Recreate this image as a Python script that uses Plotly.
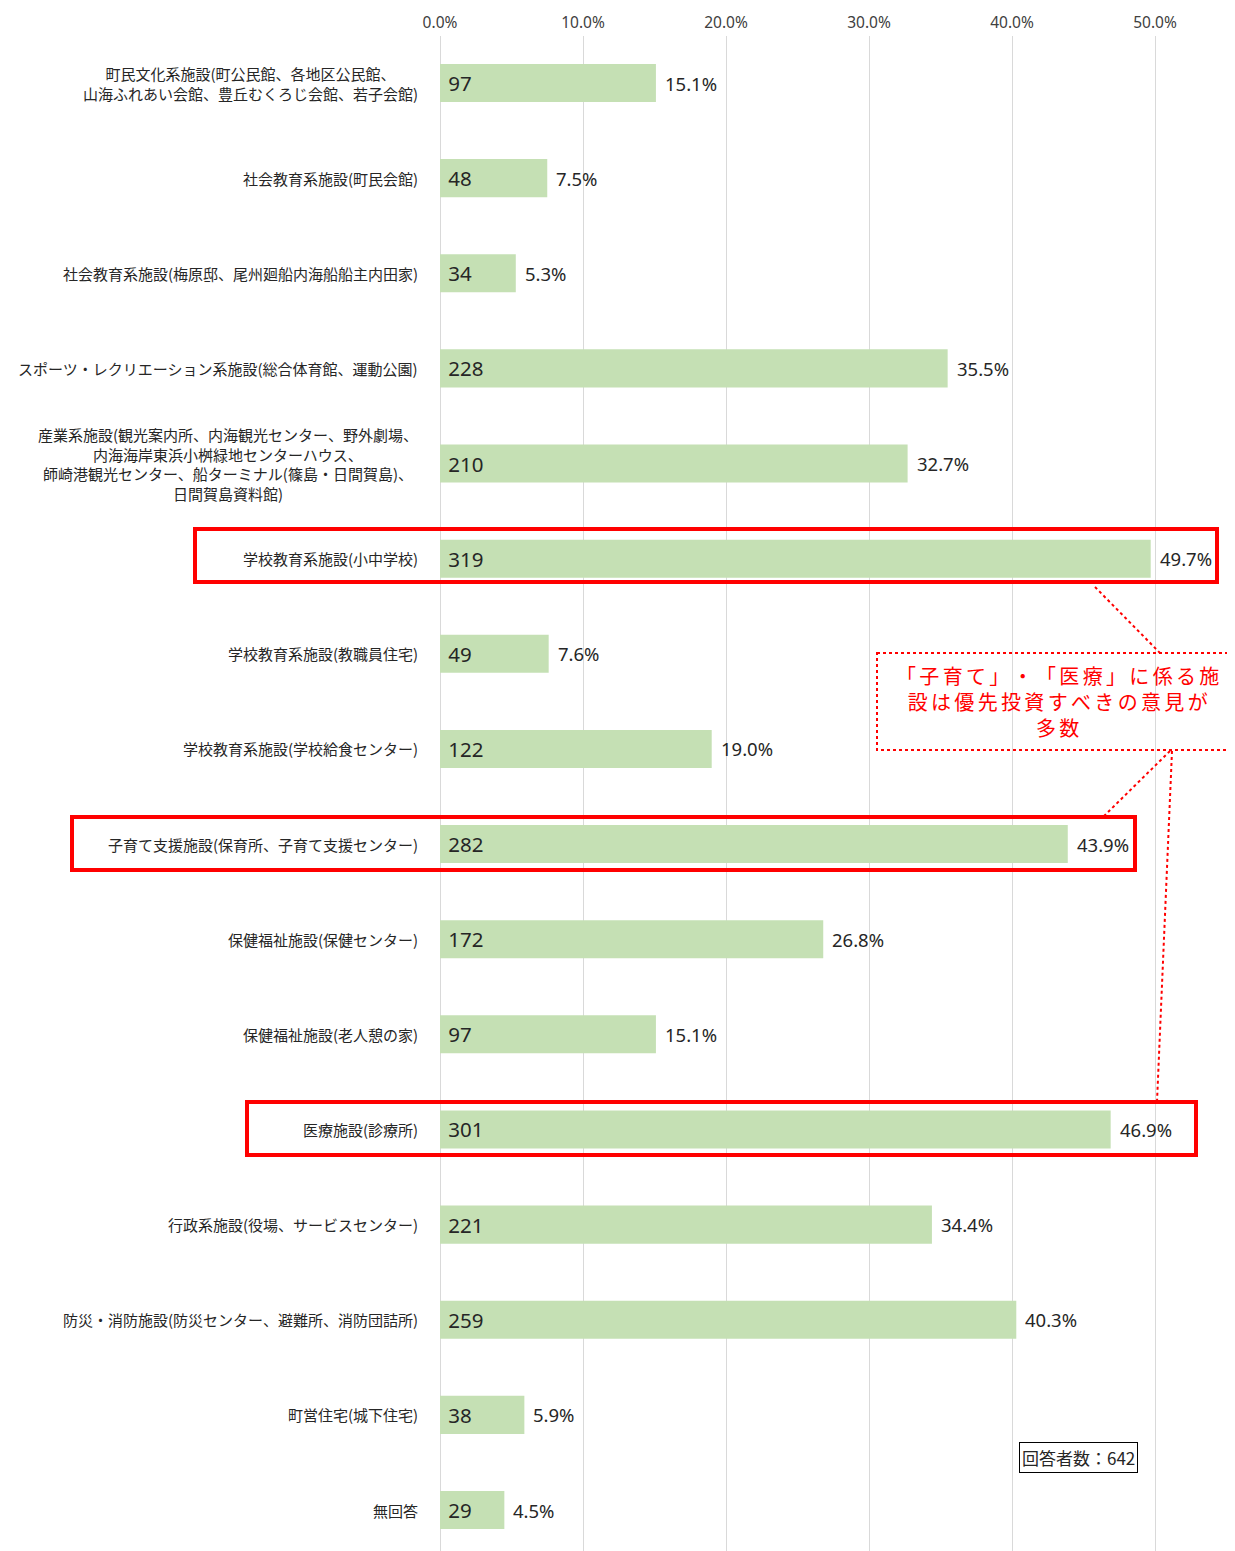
import plotly.graph_objects as go

categories = [
    "町民文化系施設(町公民館、各地区公民館、<br>山海ふれあい会館、豊丘むくろじ会館、若子会館)",
    "社会教育系施設(町民会館)",
    "社会教育系施設(梅原邸、尾州廻船内海船船主内田家)",
    "スポーツ・レクリエーション系施設(総合体育館、運動公園)",
    "産業系施設(観光案内所、内海観光センター、野外劇場、<br>内海海岸東浜小桝緑地センターハウス、<br>師崎港観光センター、船ターミナル(篠島・日間賀島)、<br>日間賀島資料館)",
    "学校教育系施設(小中学校)",
    "学校教育系施設(教職員住宅)",
    "学校教育系施設(学校給食センター)",
    "子育て支援施設(保育所、子育て支援センター)",
    "保健福祉施設(保健センター)",
    "保健福祉施設(老人憩の家)",
    "医療施設(診療所)",
    "行政系施設(役場、サービスセンター)",
    "防災・消防施設(防災センター、避難所、消防団詰所)",
    "町営住宅(城下住宅)",
    "無回答",
]
counts = [97, 48, 34, 228, 210, 319, 49, 122, 282, 172, 97, 301, 221, 259, 38, 29]
percents = [15.1, 7.5, 5.3, 35.5, 32.7, 49.7, 7.6, 19.0, 43.9, 26.8, 15.1, 46.9, 34.4, 40.3, 5.9, 4.5]
x_ticks = [0, 10, 20, 30, 40, 50]
x_tick_labels = ["0.0%", "10.0%", "20.0%", "30.0%", "40.0%", "50.0%"]
callout_text = "「子育て」・「医療」に係る施設は優先投資すべきの意見が多数"
respondents_text = "回答者数：642"

OFF = 8  # page body margin
PAGE_W, PAGE_H = 1235, 1551
W, H = PAGE_W - OFF, PAGE_H - OFF
ML, MR, MT, MB = 440 - OFF, 0, 36 - OFF, 0
PW, PH = W - ML - MR, H - MT - MB
PX_PER_PCT = 14.3
n = len(categories)
idx = list(range(n))

def px(xp):
    return (xp - 440) / PW

def py(yp):
    return 1 - (yp - 36) / PH

fig = go.Figure()
fig.add_trace(go.Bar(
    y=idx, x=percents, orientation="h", width=0.4,
    marker=dict(color="#c5e0b4", line=dict(width=0)),
    text=[f" {c}" for c in counts], textposition="inside", insidetextanchor="start",
    insidetextfont=dict(size=20.5, color="#262626", family="Noto Sans, Open Sans, sans-serif"),
    constraintext="none", cliponaxis=False, hoverinfo="skip",
))

annotations = []
for i, p in enumerate(percents):
    annotations.append(dict(
        xref="x", yref="y", x=p, y=i, xanchor="left", yanchor="middle",
        xshift=7, yshift=0, text=f"{p:.1f}%", showarrow=False,
        font=dict(size=18.5, color="#262626", family="Noto Sans, Open Sans, sans-serif"),
    ))
for i, c in enumerate(categories):
    annotations.append(dict(
        xref="paper", yref="y", x=0, y=i, xshift=-20, xanchor="right", yanchor="middle",
        text=c, showarrow=False, align="center",
        font=dict(size=15, color="#262626", family="Noto Sans CJK JP"),
    ))

sp = "\u2006"
line1 = sp.join(callout_text[:14])
line2 = sp.join(callout_text[14:27])
line3 = sp.join(callout_text[27:])
annotations.append(dict(
    xref="paper", yref="paper", x=px(1057), y=py(702), xanchor="center", yanchor="middle",
    text=f"{line1}<br>{line2}<br>{line3}", showarrow=False, align="center",
    font=dict(size=20, color="#ff0000", family="Noto Sans CJK JP"),
))
annotations.append(dict(
    xref="paper", yref="paper", x=px(1078), y=py(1457), xanchor="center", yanchor="middle",
    text=respondents_text, showarrow=False, bgcolor="white",
    bordercolor="black", borderwidth=1, borderpad=2,
    font=dict(size=17, color="#262626", family="Noto Sans CJK JP"),
))

shapes = []
for (x0, y0, x1, y1) in [(195, 529, 1217, 582), (72, 817, 1135, 870), (247, 1102, 1196, 1155)]:
    shapes.append(dict(type="rect", xref="paper", yref="paper",
                       x0=px(x0), y0=py(y0), x1=px(x1), y1=py(y1),
                       line=dict(color="#ff0000", width=4), fillcolor="rgba(0,0,0,0)"))
shapes.append(dict(type="rect", xref="paper", yref="paper",
                   x0=px(877), y0=py(653), x1=px(1240), y1=py(750),
                   line=dict(color="#ff0000", width=2, dash="dot"), fillcolor="rgba(0,0,0,0)"))
for (x0, y0, x1, y1) in [(1095, 587, 1160, 653), (1170, 751, 1103, 817), (1172, 751, 1157, 1102)]:
    shapes.append(dict(type="line", xref="paper", yref="paper",
                       x0=px(x0), y0=py(y0), x1=px(x1), y1=py(y1),
                       line=dict(color="#ff0000", width=2, dash="dot")))

top_units = (83 - 36) / 95.13
bot_units = (PAGE_H - 1510) / 95.13
fig.update_layout(
    width=W, height=H, margin=dict(l=ML, r=MR, t=MT, b=MB),
    paper_bgcolor="white", plot_bgcolor="white", showlegend=False,
    xaxis=dict(side="top", range=[0, PW / PX_PER_PCT], tickvals=x_ticks, ticktext=x_tick_labels,
               showgrid=True, gridcolor="#d9d9d9", gridwidth=1, zeroline=True, zerolinecolor="#d9d9d9",
               zerolinewidth=1, showline=False, ticks="", fixedrange=True, ticklabelstandoff=4,
               tickfont=dict(size=15.5, color="#404040", family="Noto Sans, Open Sans, sans-serif")),
    yaxis=dict(range=[n - 1 + bot_units, -top_units], showticklabels=False, showgrid=False,
               zeroline=False, showline=False, ticks=""),
    annotations=annotations, shapes=shapes,
)
fig.write_html("out.html")
